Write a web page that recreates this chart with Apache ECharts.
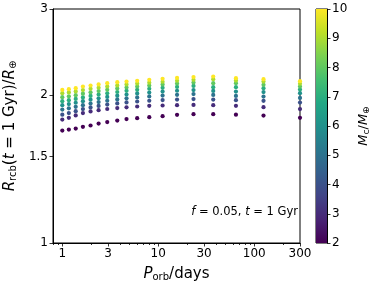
<!DOCTYPE html>
<html><head><meta charset="utf-8">
<script src="https://cdn.jsdelivr.net/npm/echarts@6/dist/echarts.min.js"></script>
<style>html,body{margin:0;padding:0;background:#fff}#c{width:374px;height:289px}</style>
</head><body><div id="c"></div>
<script>
// Orbital periods (days)
const periods = [1.0, 1.17, 1.38, 1.64, 1.97, 2.39, 2.94, 3.74, 4.67, 6.03, 8.06, 11.1, 15.7, 23.3, 37.4, 64.5, 125, 300];
// Core masses (Earth masses)
const masses = [2, 3, 4, 5, 6, 7, 8, 9, 10];
// R_rcb(t=1 Gyr)/R_earth for each core mass
const radiusMc2  = [1.695,1.703,1.711,1.725,1.736,1.752,1.764,1.777,1.789,1.797,1.805,1.814,1.825,1.831,1.831,1.827,1.819,1.800];
const radiusMc3  = [1.785,1.800,1.820,1.840,1.855,1.866,1.876,1.884,1.891,1.898,1.904,1.907,1.910,1.912,1.910,1.904,1.892,1.875];
const radiusMc4  = [1.827,1.840,1.857,1.875,1.890,1.903,1.915,1.926,1.935,1.943,1.950,1.956,1.961,1.965,1.961,1.955,1.949,1.933];
const radiusMc5  = [1.871,1.882,1.895,1.910,1.925,1.938,1.950,1.962,1.972,1.981,1.990,1.998,2.005,2.012,2.004,1.995,1.989,1.976];
const radiusMc6  = [1.910,1.920,1.932,1.946,1.960,1.973,1.985,1.997,2.008,2.018,2.027,2.036,2.044,2.050,2.042,2.036,2.031,2.021];
const radiusMc7  = [1.946,1.955,1.967,1.981,1.995,2.008,2.020,2.032,2.043,2.053,2.063,2.072,2.081,2.091,2.078,2.078,2.069,2.055];
const radiusMc8  = [1.983,1.991,2.002,2.016,2.029,2.041,2.053,2.065,2.075,2.085,2.095,2.105,2.114,2.124,2.118,2.118,2.101,2.084];
const radiusMc9  = [2.021,2.028,2.037,2.050,2.062,2.073,2.085,2.096,2.105,2.114,2.123,2.132,2.142,2.151,2.158,2.144,2.134,2.112];
const radiusMc10 = [2.052,2.059,2.069,2.085,2.095,2.105,2.118,2.128,2.134,2.141,2.151,2.161,2.171,2.179,2.185,2.168,2.158,2.138];
const radiusByMass = [radiusMc2, radiusMc3, radiusMc4, radiusMc5, radiusMc6, radiusMc7, radiusMc8, radiusMc9, radiusMc10];

// Tick labels
const xTickLabels = [1, 3, 10, 30, 100, 300];
const xMinorTicks = [0.8, 0.9, 2, 4, 5, 6, 7, 8, 9, 20, 40, 50, 60, 70, 80, 90, 200];
const xMajorTicks = [1, 3, 10, 30, 100, 300];
const yTickLabels = [1, 1.5, 2, 3];
const colorbarTicks = [2, 3, 4, 5, 6, 7, 8, 9, 10];

const viridis = ['#440154','#482475','#414487','#355f8d','#2a788e','#21918c','#22a884','#44bf70','#7ad151','#bddf26','#fde725'];

const points = [];
masses.forEach((m, i) => {
  periods.forEach((p, j) => points.push([p, radiusByMass[i][j], m]));
});

const FONT = 'DejaVu Sans';
const chart = echarts.init(document.getElementById('c'), null, {renderer: 'canvas'});
const cbMin = colorbarTicks[0], cbMax = colorbarTicks[colorbarTicks.length - 1];

chart.setOption({
  animation: false,
  backgroundColor: '#fff',
  textStyle: {fontFamily: FONT},
  grid: [
    {left: 53, top: 9, width: 247, height: 234, show: true, borderColor: '#000', borderWidth: 1, backgroundColor: 'transparent', containLabel: false, outerBoundsMode: 'none'},
    {left: 316, top: 9, width: 11, height: 234, show: true, borderColor: '#000', borderWidth: 1, backgroundColor: 'transparent', containLabel: false, outerBoundsMode: 'none'}
  ],
  visualMap: {
    show: false, type: 'continuous', seriesIndex: 0, dimension: 2,
    min: cbMin, max: cbMax, inRange: {color: viridis}
  },
  xAxis: [
    {
      type: 'log', gridIndex: 0, min: 0.8, max: 300, logBase: 10,
      axisLine: {show: true, onZero: false, lineStyle: {color: '#000', width: 1}},
      axisTick: {show: true, length: 2, inside: false, customValues: xMinorTicks, lineStyle: {color: '#000', width: 0.8}},
      axisLabel: {show: false},
      splitLine: {show: false}, minorTick: {show: false}
    },
    {
      type: 'log', gridIndex: 0, min: 0.8, max: 300, logBase: 10, position: 'bottom',
      axisLine: {show: false},
      axisTick: {show: true, length: 3.5, customValues: xMajorTicks, lineStyle: {color: '#000', width: 0.8}},
      axisLabel: {show: true, customValues: xTickLabels, color: '#000', fontSize: 12, fontFamily: FONT, margin: 5},
      splitLine: {show: false},
      name: '{i|P}{s|orb}{n|/days}', nameLocation: 'middle', nameGap: 23,
      nameTextStyle: {
        rich: {
          i: {fontFamily: FONT, fontStyle: 'italic', fontSize: 15, color: '#000'},
          s: {fontFamily: FONT, fontSize: 10, color: '#000', verticalAlign: 'bottom', padding: [6, 0, 0, 0]},
          n: {fontFamily: FONT, fontSize: 15, color: '#000'}
        }
      }
    },
    {type: 'category', gridIndex: 1, data: ['cb'], show: false, boundaryGap: true}
  ],
  yAxis: [
    {
      type: 'log', gridIndex: 0, min: 1, max: 3, logBase: 10,
      axisLine: {show: true, onZero: false, lineStyle: {color: '#000', width: 1}},
      axisTick: {show: true, length: 3.5, customValues: yTickLabels, lineStyle: {color: '#000', width: 0.8}},
      axisLabel: {show: true, customValues: yTickLabels, color: '#000', fontSize: 12, fontFamily: FONT, margin: 5},
      splitLine: {show: false},
      name: '{i|R}{s|rcb}{n|(}{i|t}{n| = 1 Gyr)/}{i|R}{s|⊕}', nameLocation: 'middle', nameGap: 35, nameRotate: 90,
      nameTextStyle: {
        rich: {
          i: {fontFamily: FONT, fontStyle: 'italic', fontSize: 15, color: '#000'},
          s: {fontFamily: FONT, fontSize: 10, color: '#000', verticalAlign: 'bottom', padding: [6, 0, 0, 0]},
          n: {fontFamily: FONT, fontSize: 15, color: '#000'}
        }
      }
    },
    {
      type: 'value', gridIndex: 1, min: cbMin, max: cbMax, interval: 1, position: 'right',
      axisLine: {show: true, lineStyle: {color: '#000', width: 1}},
      axisTick: {show: true, length: 3.5, lineStyle: {color: '#000', width: 0.8}},
      axisLabel: {show: true, color: '#000', fontSize: 12, fontFamily: FONT, margin: 5},
      splitLine: {show: false},
      name: '{i|M}{s|c}{n|/}{i|M}{s|⊕}', nameLocation: 'middle', nameGap: 30, nameRotate: 90,
      nameTextStyle: {
        rich: {
          i: {fontFamily: FONT, fontStyle: 'italic', fontSize: 13, color: '#000'},
          s: {fontFamily: FONT, fontSize: 9, color: '#000', verticalAlign: 'bottom', padding: [5, 0, 0, 0]},
          n: {fontFamily: FONT, fontSize: 13, color: '#000'}
        }
      }
    }
  ],
  series: [
    {
      type: 'scatter', xAxisIndex: 1, yAxisIndex: 0, data: points,
      symbolSize: 4.2, itemStyle: {opacity: 1}
    },
    {
      type: 'bar', xAxisIndex: 2, yAxisIndex: 1, stack: 'cb', data: [cbMin],
      barWidth: '100%', itemStyle: {color: 'transparent'}, silent: true
    },
    {
      type: 'bar', xAxisIndex: 2, yAxisIndex: 1, stack: 'cb', data: [cbMax - cbMin],
      barWidth: '100%', silent: true,
      itemStyle: {color: new echarts.graphic.LinearGradient(0, 1, 0, 0,
        viridis.map((c, k) => ({offset: k / (viridis.length - 1), color: c})))}
    }
  ],
  graphic: [{
    type: 'text', right: 76, top: 206,
    style: {
      text: '{i|f}{n| = 0.05, }{i|t}{n| = 1 Gyr}',
      rich: {
        i: {fontFamily: FONT, fontStyle: 'italic', fontSize: 11.5, fill: '#000'},
        n: {fontFamily: FONT, fontSize: 11.5, fill: '#000'}
      }
    }
  }]
});
</script>
</body></html>
